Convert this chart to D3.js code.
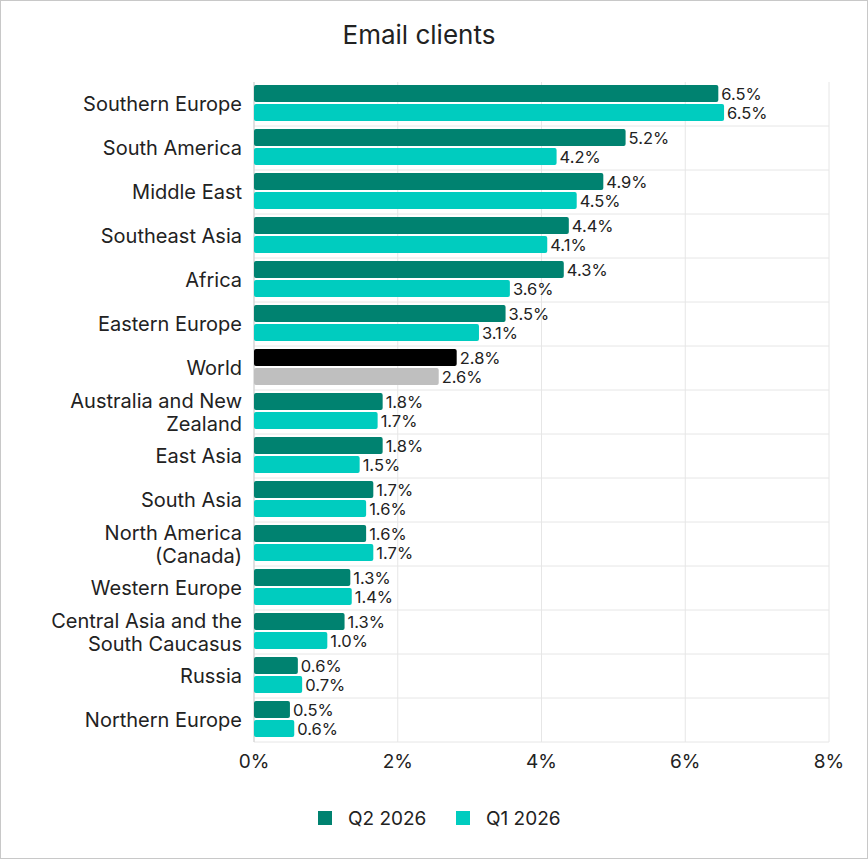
<!DOCTYPE html>
<html>
<head>
<meta charset="utf-8">
<script src="https://cdn.jsdelivr.net/npm/d3@7"></script>
<style>
  body { margin: 0; background: #fff; }
  svg { font-family: Inter, "Noto Sans", sans-serif; }
</style>
</head>
<body>
<svg id="chart" width="868" height="859"></svg>
<script>
const regions = ["Southern Europe", "South America", "Middle East", "Southeast Asia", "Africa",
  "Eastern Europe", "World", "Australia and New Zealand", "East Asia", "South Asia",
  "North America (Canada)", "Western Europe", "Central Asia and the South Caucasus", "Russia", "Northern Europe"]
const labelLines = [["Southern Europe"], ["South America"], ["Middle East"], ["Southeast Asia"], ["Africa"],
  ["Eastern Europe"], ["World"], ["Australia and New", "Zealand"], ["East Asia"], ["South Asia"],
  ["North America", "(Canada)"], ["Western Europe"], ["Central Asia and the", "South Caucasus"], ["Russia"], ["Northern Europe"]]
const q2 = [6.46, 5.17, 4.86, 4.38, 4.31, 3.5, 2.82, 1.79, 1.79, 1.66, 1.56, 1.34, 1.26, 0.61, 0.5]
const q1 = [6.54, 4.21, 4.49, 4.08, 3.56, 3.13, 2.57, 1.72, 1.47, 1.56, 1.66, 1.36, 1.02, 0.67, 0.56]
const xTicks = [0, 2, 4, 6, 8]
const seriesNames = ["Q2 2026", "Q1 2026"]

const svg = d3.select("#chart")
svg.append("rect").attr("x", 0.5).attr("y", 0.5).attr("width", 867).attr("height", 858)
  .attr("fill", "#fff").attr("stroke", "#c8c8c8")

const margin = {top: 82, left: 254, right: 39, bottom: 117}
const width = 868 - margin.left - margin.right, height = 859 - margin.top - margin.bottom

const x = d3.scaleLinear().domain([0, 8]).range([0, width])
const y = d3.scaleBand().domain(regions).range([0, height])
const g = svg.append("g").attr("transform", "translate(" + margin.left + "," + margin.top + ")")

svg.append("text").attr("x", 419).attr("y", 44).attr("text-anchor", "middle")
  .attr("font-size", 26).attr("fill", "#222").text("Email clients")

// grid
g.selectAll(".vg").data(xTicks).enter().append("line")
  .attr("x1", d => x(d)).attr("x2", d => x(d)).attr("y1", 0).attr("y2", height)
  .attr("stroke", "#e6e6e6")
g.selectAll(".hg").data(regions.slice(1)).enter().append("line")
  .attr("x1", 0).attr("x2", width).attr("y1", d => y(d)).attr("y2", d => y(d))
  .attr("stroke", "#e6e6e6")
g.append("line").attr("x1", 0).attr("x2", width).attr("y1", height).attr("y2", height).attr("stroke", "#e6e6e6")
g.append("line").attr("x1", 0).attr("x2", 0).attr("y1", 0).attr("y2", height).attr("stroke", "#d0d0d0")

const bh = 17
const fmt = v => v.toFixed(1) + "%"
const colors = [(i) => regions[i] === "World" ? "#000" : "#008270", (i) => regions[i] === "World" ? "#bfbfbf" : "#00ccbf"]
;[q2, q1].forEach((vals, s) => {
  const off = s === 0 ? 3 : 22
  g.selectAll(".bar" + s).data(vals).enter().append("rect")
    .attr("x", 0).attr("y", (d, i) => y(regions[i]) + off)
    .attr("width", d => x(d)).attr("height", bh).attr("rx", 2)
    .attr("fill", (d, i) => colors[s](i))
  g.selectAll(".lab" + s).data(vals).enter().append("text")
    .attr("x", d => x(d) + 3).attr("y", (d, i) => y(regions[i]) + off + bh / 2 + 6)
    .attr("font-size", 16.5).attr("fill", "#222").text(fmt)
})

// category labels
labelLines.forEach((lines, i) => {
  const cy = y(regions[i]) + y.bandwidth() / 2
  const t = svg.append("text").attr("text-anchor", "end").attr("font-size", 20).attr("fill", "#222")
  lines.forEach((ln, j) => {
    t.append("tspan").attr("x", margin.left - 12)
      .attr("y", margin.top + cy + 7 + (j - (lines.length - 1) / 2) * 23).text(ln)
  })
})

// x axis
g.selectAll(".xt").data(xTicks).enter().append("text")
  .attr("x", d => x(d)).attr("y", height + 26).attr("text-anchor", "middle")
  .attr("font-size", 19).attr("fill", "#222").text(d => d + "%")

// legend
const lg = svg.append("g").attr("transform", "translate(318,818)")
seriesNames.forEach((n, i) => {
  const gx = i === 0 ? 0 : 138
  lg.append("rect").attr("x", gx).attr("y", -7).attr("width", 14).attr("height", 14).attr("fill", i === 0 ? "#008270" : "#00ccbf")
  lg.append("text").attr("x", gx + 30).attr("y", 7).attr("font-size", 19).attr("fill", "#222").text(n)
})
</script>
</body>
</html>
